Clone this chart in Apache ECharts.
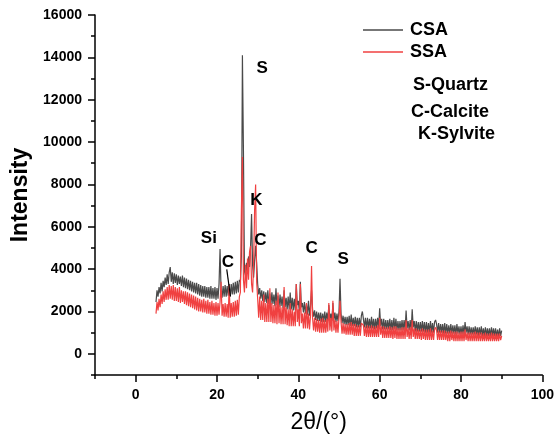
<!DOCTYPE html>
<html>
<head>
<meta charset="utf-8">
<script src="https://cdn.jsdelivr.net/npm/echarts@6/dist/echarts.min.js"></script>
<style>
  html, body { margin: 0; padding: 0; background: #fff; }
  #chart { width: 557px; height: 439px; }
</style>
</head>
<body>
<div id="chart"></div>
<script>
// scan grid: 2theta from 5 to 90 deg, step 0.25
const scanStart = 5;
const scanStep = 0.25;

// CSA intensities, one row per degree (d, d+.25, d+.5, d+.75)
const csa = [
  2450, 3000, 2700, 3150,
  2850, 3350, 2950, 3450,
  3150, 3600, 3250, 3750,
  3300, 3850, 4100, 3400,
  3850, 3300, 3800, 3350,
  3750, 3250, 3700, 3300,
  3650, 3200, 3700, 3150,
  3600, 3100, 3550, 3050,
  3500, 3000, 3450, 2950,
  3400, 2900, 3350, 2850,
  3350, 2800, 3300, 2750,
  3250, 2700, 3200, 2700,
  3200, 2650, 3150, 2650,
  3150, 2600, 3200, 2600,
  3100, 2600, 3150, 2550,
  3100, 2600, 3300, 4950,
  3000, 2650, 3200, 2700,
  3250, 2700, 3200, 2750,
  3300, 2700, 3300, 2800,
  3350, 2800, 3400, 2850,
  3450, 2900, 3500, 3400,
  4600, 14100, 9600, 3900,
  3700, 4300, 3800, 4600,
  4100, 5000, 6600, 4200,
  3600, 4400, 5100, 4300,
  3300, 2800, 3100, 2600,
  3000, 2500, 2950, 2450,
  2900, 2400, 3000, 2350,
  2850, 2300, 2900, 2350,
  2800, 2250, 3100, 2300,
  2750, 2200, 2800, 2250,
  2700, 2150, 3000, 2200,
  2650, 2100, 2700, 2100,
  2900, 2100, 2650, 2050,
  2600, 2050, 3300, 2300,
  2500, 2000, 3400, 2200,
  2400, 1950, 2450, 1900,
  2350, 1850, 2500, 1800,
  2300, 3000, 2100, 1750,
  2050, 1600, 2000, 1550,
  1950, 1550, 1950, 1500,
  1900, 1500, 2000, 1500,
  1950, 1550, 2300, 1600,
  1900, 1550, 2400, 1600,
  1950, 1500, 1900, 1550,
  2000, 3550, 1900, 1450,
  1800, 1400, 1750, 1350,
  1750, 1350, 1800, 1300,
  1850, 1300, 1700, 1300,
  1750, 1250, 1700, 1250,
  1700, 1250, 1800, 2000,
  1650, 1250, 1700, 1200,
  1700, 1200, 1650, 1200,
  1750, 1200, 1650, 1150,
  1650, 1200, 1700, 1200,
  2150, 1300, 1650, 1150,
  1650, 1150, 1600, 1150,
  1600, 1150, 1650, 1100,
  1600, 1100, 1700, 1150,
  1650, 1100, 1550, 1100,
  1550, 1100, 1600, 1100,
  1600, 1100, 2050, 1200,
  1550, 1100, 1600, 1100,
  2100, 1250, 1550, 1050,
  1550, 1050, 1500, 1050,
  1500, 1050, 1550, 1050,
  1500, 1000, 1500, 1000,
  1450, 1000, 1550, 1000,
  1450, 1000, 1500, 1600,
  1400, 1000, 1450, 1000,
  1400, 1000, 1400, 950,
  1450, 950, 1400, 950,
  1350, 950, 1400, 950,
  1350, 950, 1350, 900,
  1400, 950, 1300, 900,
  1300, 900, 1350, 900,
  1500, 1000, 1300, 900,
  1300, 900, 1250, 900,
  1250, 900, 1300, 900,
  1250, 850, 1250, 900,
  1300, 850, 1200, 850,
  1250, 850, 1200, 850,
  1200, 850, 1250, 850,
  1200, 850, 1200, 800,
  1150, 800, 1200, 850,
  1100
];

// SSA intensities, same grid
const ssa = [
  1900, 2450, 2050, 2600,
  2200, 2800, 2350, 2950,
  2450, 3050, 2550, 3150,
  2550, 3250, 2600, 3200,
  2550, 3250, 2500, 3150,
  2500, 3100, 2450, 3150,
  2400, 3000, 2450, 2950,
  2350, 2950, 2300, 2900,
  2250, 2850, 2200, 2800,
  2150, 2750, 2100, 2700,
  2050, 2650, 2000, 2600,
  2000, 2550, 1950, 2600,
  1950, 2500, 1900, 2550,
  1900, 2450, 1850, 2500,
  1850, 2400, 1800, 2450,
  1800, 2400, 1850, 2450,
  3400, 1800, 2350, 1750,
  2400, 1750, 2350, 1700,
  3250, 1700, 2400, 1750,
  2450, 1750, 2500, 1800,
  2550, 1850, 2700, 2900,
  6800, 9300, 3500, 2900,
  4200, 3100, 4500, 3500,
  4800, 5100, 3300, 2900,
  4200, 6800, 8000, 3400,
  2600, 1700, 2700, 1600,
  2500, 1600, 2800, 1500,
  2400, 1500, 2600, 1500,
  3100, 1500, 2400, 1450,
  2300, 1450, 2500, 1400,
  2900, 1450, 2300, 1400,
  2200, 1400, 3150, 1400,
  2200, 1350, 2100, 1300,
  2400, 1300, 2100, 1300,
  2000, 1300, 3300, 1500,
  2100, 1300, 3300, 1450,
  1900, 1200, 1950, 1200,
  2400, 1200, 1900, 1150,
  1800, 4150, 1700, 1100,
  1700, 1050, 1650, 1050,
  1600, 1000, 1650, 1000,
  1700, 1000, 1600, 1000,
  1650, 1050, 2400, 1100,
  1700, 1050, 2500, 1100,
  1600, 1000, 1550, 1000,
  1700, 2500, 1500, 950,
  1450, 950, 1400, 900,
  1400, 900, 1450, 900,
  1500, 900, 1400, 850,
  1400, 850, 1350, 850,
  1350, 850, 1450, 1500,
  1350, 850, 1300, 800,
  1350, 800, 1300, 800,
  1350, 800, 1300, 800,
  1300, 800, 1350, 800,
  1700, 900, 1300, 750,
  1300, 750, 1250, 750,
  1250, 750, 1300, 750,
  1250, 700, 1300, 750,
  1300, 700, 1200, 700,
  1200, 700, 1250, 700,
  1250, 700, 1600, 800,
  1200, 700, 1250, 700,
  1600, 800, 1200, 700,
  1200, 700, 1150, 700,
  1150, 650, 1200, 700,
  1150, 650, 1150, 650,
  1150, 650, 1200, 650,
  1100, 650, 1150, 1250,
  1100, 650, 1100, 650,
  1100, 650, 1100, 650,
  1100, 650, 1050, 600,
  1050, 600, 1100, 650,
  1050, 600, 1050, 600,
  1050, 600, 1000, 600,
  1050, 600, 1050, 600,
  1150, 650, 1000, 600,
  1000, 600, 1000, 600,
  1000, 600, 1050, 600,
  1000, 600, 1000, 600,
  1000, 600, 950, 600,
  1000, 600, 950, 600,
  950, 600, 1000, 600,
  950, 600, 950, 600,
  950, 600, 950, 650,
  850
];

// phase labels placed at data coordinates
const peakNames = ['S', 'K', 'Si', 'C', 'C', 'C', 'S'];
const peakAt = [[31.1, 13500], [29.7, 7250], [18.0, 5450], [22.7, 4300], [30.7, 5350], [43.3, 5000], [51.0, 4450]];

const xMajor = [0, 20, 40, 60, 80, 100];
const xMinor = [-10, 10, 30, 50, 70, 90];
const yMajor = [0, 2000, 4000, 6000, 8000, 10000, 12000, 14000, 16000];
const yMinor = [-1000, 1000, 3000, 5000, 7000, 9000, 11000, 13000, 15000];

const phaseNotes = ['S-Quartz', 'C-Calcite', 'K-Sylvite'];

const FONT = 'Arial, "Liberation Sans", sans-serif';

function toPairs(vals) {
  return vals.map((v, i) => [scanStart + i * scanStep, v]);
}

const chart = echarts.init(document.getElementById('chart'));

function axisPair(kind, min, max, interval, major, minor, extra) {
  const base = {
    type: 'value', min: min, max: max, interval: interval,
    splitLine: { show: false }
  };
  const main = Object.assign({}, base, extra, {
    axisLine: { show: true, onZero: false, lineStyle: { color: '#000', width: 1.5 } },
    axisTick: { show: true, inside: false, length: 7, customValues: major,
      lineStyle: { color: '#000', width: 1.5 } },
    axisLabel: { show: true, customValues: major, color: '#000',
      formatter: v => String(v),
      fontFamily: FONT, fontWeight: 'bold', fontSize: 14, margin: 13 }
  });
  const sub = Object.assign({}, base, {
    position: kind === 'x' ? 'bottom' : 'left',
    axisLine: { show: false, onZero: false },
    axisTick: { show: true, inside: false, length: 4, customValues: minor,
      lineStyle: { color: '#000', width: 1.5 } },
    axisLabel: { show: false }
  });
  return [main, sub];
}

const option = {
  animation: false,
  backgroundColor: '#fff',
  grid: { left: 95, right: 14, top: 15, bottom: 64, containLabel: false },
  xAxis: axisPair('x', -10, 100, 10, xMajor, xMinor, {
    position: 'bottom',
    name: '2θ/(°)', nameLocation: 'middle', nameGap: 36,
    nameTextStyle: { fontFamily: FONT, fontSize: 23, color: '#000' }
  }),
  yAxis: axisPair('y', -1000, 16000, 1000, yMajor, yMinor, {
    position: 'left',
    name: 'Intensity', nameLocation: 'middle', nameGap: 57,
    nameTextStyle: { fontFamily: FONT, fontSize: 23, fontWeight: 'bold', color: '#000' }
  }),
  legend: {
    orient: 'vertical', left: 358, top: 16, itemGap: 4,
    itemWidth: 40, itemHeight: 1.5, icon: 'rect',
    textStyle: { fontFamily: FONT, fontSize: 18, fontWeight: 'bold', color: '#000', padding: [0, 0, 0, 2] },
    data: ['CSA', 'SSA']
  },
  graphic: phaseNotes.map((t, i) => ({
    type: 'text',
    left: [413, 411, 418][i],
    top: [76, 103, 125][i],
    style: { text: t, fontFamily: FONT, fontSize: 18, fontWeight: 'bold', fill: '#000' }
  })),
  series: [
    {
      name: 'CSA', type: 'line', xAxisIndex: 0, yAxisIndex: 0,
      data: toPairs(csa), symbol: 'none', z: 2,
      itemStyle: { color: '#4a4a4a' },
      lineStyle: { color: '#4a4a4a', width: 1.2 },
      markLine: {
        silent: true, symbol: 'none', animation: false,
        lineStyle: { color: '#000', width: 1.2, type: 'solid' },
        label: { show: false },
        data: [[{ coord: [22.4, 3990] }, { coord: [23.3, 2720] }]]
      }
    },
    {
      name: 'SSA', type: 'line', xAxisIndex: 0, yAxisIndex: 0,
      data: toPairs(ssa), symbol: 'none', z: 3,
      itemStyle: { color: '#f04040' },
      lineStyle: { color: '#f04040', width: 1.2 },
      markPoint: {
        silent: true, symbol: 'circle', symbolSize: 0, animation: false,
        label: {
          show: true, position: 'inside', formatter: '{b}', color: '#000',
          fontFamily: FONT, fontSize: 17, fontWeight: 'bold'
        },
        data: peakNames.map((n, i) => ({ name: n, coord: peakAt[i] }))
      }
    }
  ]
};

chart.setOption(option);
</script>
</body>
</html>
